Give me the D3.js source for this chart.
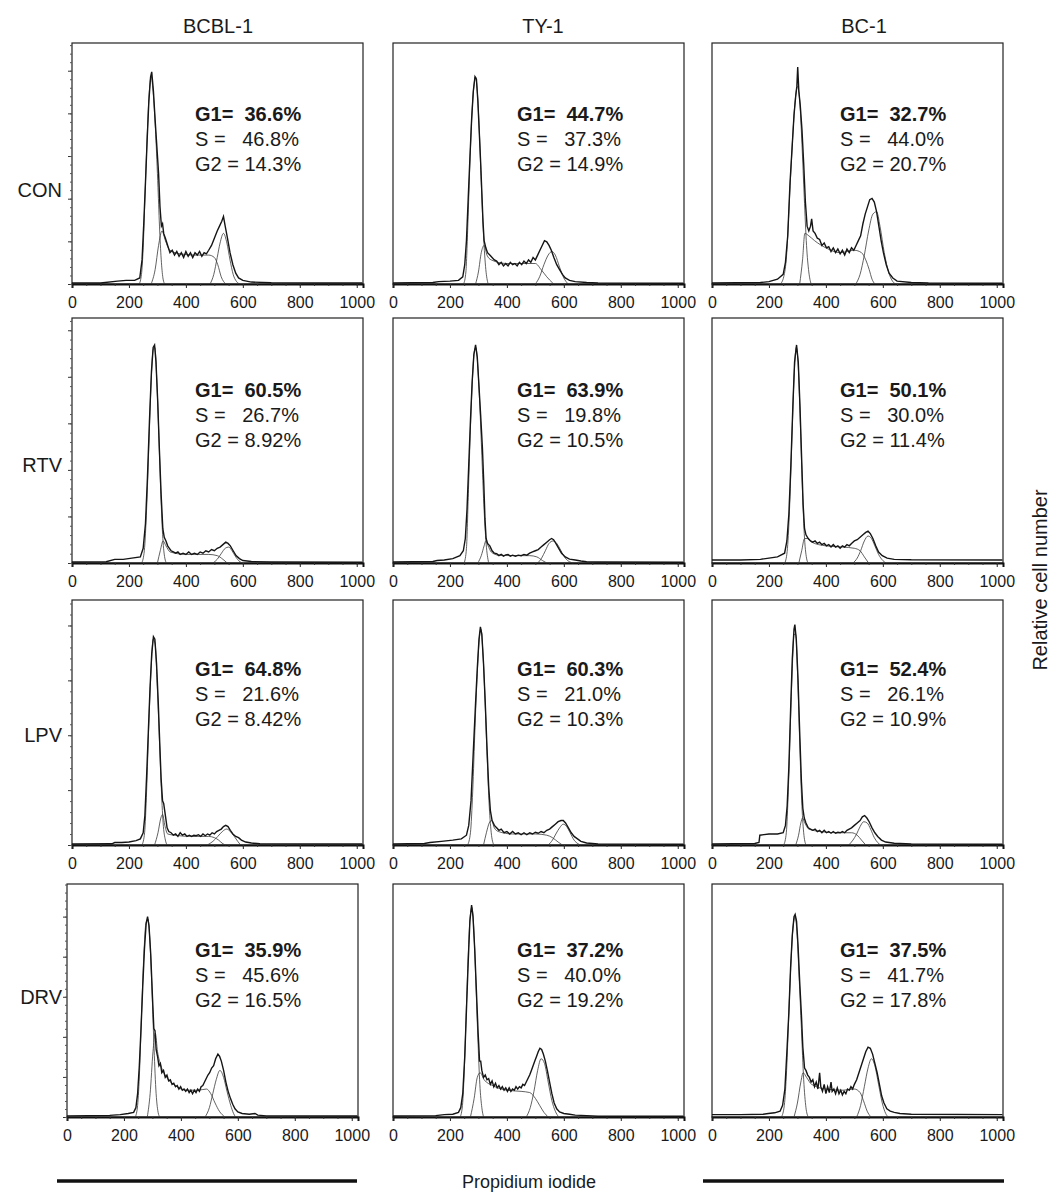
<!DOCTYPE html>
<html><head><meta charset="utf-8">
<script src="https://cdn.jsdelivr.net/npm/d3@7"></script>
<style>body{margin:0;background:#fff}svg{display:block}text{font-family:"Liberation Sans",Arial,sans-serif;fill:#1a1a1a}</style>
</head><body>
<svg id="c" width="1058" height="1194"></svg>
<script>
// ---------- labels ----------
const cellLines = ["BCBL-1", "TY-1", "BC-1"];
const treatments = ["CON", "RTV", "LPV", "DRV"];
const xTicks = [0, 200, 400, 600, 800, 1000];
// phase percentages per treatment row, per cell line column
const pctG1 = [["36.6","44.7","32.7"],["60.5","63.9","50.1"],["64.8","60.3","52.4"],["35.9","37.2","37.5"]];
const pctS  = [["46.8","37.3","44.0"],["26.7","19.8","30.0"],["21.6","21.0","26.1"],["45.6","40.0","41.7"]];
const pctG2 = [["14.3","14.9","20.7"],["8.92","10.5","11.4"],["8.42","10.3","10.9"],["16.5","19.2","17.8"]];
// y tick step (relative cell number units) for left column panels
const yTickStep = [17.7, 19.0, 22.4, 17.2];

// ---------- histograms: [channel, relative count (% of panel height)] ----------
const CON_BCBL_hist = [[0,0.4],[100,0.4],[160,1.2],[190,1.5],[220,1.5],[238,2.5],[246,10],[252,25],[258,42],[264,60],[270,76],[276,86],[280,88],[286,80],[292,68],[298,57],[304,46],[309,32],[314,24],[318,25],[322,21],[328,19],[336,16],[344,13],[352,14],[360,12],[368,13.5],[376,11.5],[384,13],[392,11],[400,13.5],[408,11.5],[416,13],[424,11],[432,13],[440,12],[448,13.5],[456,11.5],[464,13],[472,12.5],[480,14],[490,16],[500,19],[510,22],[518,24],[526,26],[532,28],[538,24],[546,19],[555,13],[565,8],[575,4.5],[585,2.5],[600,1.5],[630,0.8],[700,0.5],[850,0.4],[1020,0.4]];
const CON_BCBL_g1 = [[236,0],[244,4],[250,15],[256,35],[263,58],[270,77],[278,86],[286,78],[294,62],[302,40],[308,22],[314,9],[320,2],[326,0]];
const CON_BCBL_s = [[278,0],[292,6],[304,16],[316,22],[328,18],[344,14],[380,12.5],[430,12],[480,12],[500,11],[512,8],[524,3],[540,0]];
const CON_BCBL_g2 = [[485,0],[498,4],[510,11],[520,17],[532,21],[544,17],[555,10],[566,4],[578,1],[590,0]];

const CON_TY_hist = [[0,0.4],[140,0.6],[160,1],[200,1.2],[230,1.5],[245,3],[252,8],[258,18],[264,35],[270,52],[276,68],[282,80],[288,86],[293,85],[298,76],[303,63],[308,50],[312,38],[316,26],[320,18],[326,15],[332,13],[340,12],[348,11],[356,10],[364,9.5],[372,8],[380,9],[388,7.5],[396,8.5],[404,7.5],[412,9],[420,8],[428,8.5],[436,7.5],[444,9],[452,8],[460,9.5],[468,8.5],[476,10],[484,9],[492,11],[500,10],[508,12],[516,14],[524,16],[532,18],[540,17.5],[548,16],[556,14],[565,11],[575,8],[585,6],[595,4],[605,2.5],[620,1.5],[640,1],[680,0.6],[720,0.4],[1020,0.3]];
const CON_TY_g1 = [[248,0],[256,5],[263,25],[270,50],[277,70],[284,82],[290,86],[296,80],[303,64],[310,42],[318,20],[326,6],[334,0]];
const CON_TY_s = [[290,0],[300,5],[310,13],[320,16],[330,12],[345,10],[400,8.5],[460,8.5],[500,8.5],[520,6],[540,3],[560,0.5],[565,0]];
const CON_TY_g2 = [[500,0],[515,3],[530,8],[545,12],[558,13.5],[570,12],[585,7],[600,2.5],[615,0]];

const CON_BC_hist = [[0,0.4],[170,0.6],[200,1],[230,2],[250,4],[258,9],[266,20],[274,42],[282,58],[288,70],[294,78],[298,82],[301,90],[305,80],[310,74],[316,64],[322,50],[328,34],[334,24],[340,22],[346,24],[350,27],[355,22],[362,21],[370,19],[378,18.5],[386,16],[394,17],[402,15],[410,15.5],[418,13.5],[426,15],[434,13],[442,14.5],[450,12.5],[458,14],[466,12],[474,14.5],[482,13],[490,15],[498,14],[506,16],[514,18],[522,20],[530,25],[538,29],[546,32],[554,35],[562,35.5],[570,34],[578,30],[586,24],[594,18],[602,13],[612,8],[622,4.5],[635,2.5],[650,1.2],[700,0.6],[760,0.4],[1020,0.3]];
const CON_BC_g1 = [[240,0],[252,3],[262,12],[272,35],[282,58],[292,76],[300,82],[308,76],[316,58],[324,36],[332,16],[340,5],[348,0]];
const CON_BC_s = [[308,0],[318,10],[326,21],[340,20],[360,18],[400,15],[450,13],[500,14],[525,13],[540,10],[552,6],[562,2],[572,0]];
const CON_BC_g2 = [[505,0],[520,4],[535,12],[550,22],[565,29],[578,30],[590,24],[605,13],[620,5],[635,1],[645,0]];

const RTV_BCBL_hist = [[0,0.4],[120,0.5],[150,1.5],[180,1.5],[210,2],[240,2.5],[250,6],[258,16],[265,35],[272,58],[279,78],[285,88],[290,89],[295,82],[301,66],[307,46],[313,28],[319,14],[324,10.5],[330,9],[336,7],[342,6],[348,5],[356,4.5],[364,4],[372,4.5],[380,3.5],[390,4],[400,3.5],[410,4.5],[420,3.5],[430,4],[440,3.5],[450,4.5],[460,4],[470,5],[480,4.5],[490,5.5],[500,5],[510,6],[520,6.5],[530,7.5],[540,8.5],[548,8],[556,7],[566,5],[576,3],[588,1.8],[600,1],[630,0.6],[700,0.4],[1020,0.3]];
const RTV_BCBL_g1 = [[245,0],[254,5],[262,22],[270,48],[278,74],[285,87],[291,88],[298,74],[305,52],[312,28],[319,10],[326,2],[332,0]];
const RTV_BCBL_s = [[300,0],[310,5],[320,9],[330,7],[345,4.5],[400,3.5],[480,3.5],[510,3],[530,1.5],[545,0]];
const RTV_BCBL_g2 = [[495,0],[510,1.5],[525,4],[538,6],[550,6.5],[562,5],[575,2.5],[590,0.5],[600,0]];

const RTV_TY_hist = [[0,0.4],[140,0.6],[155,1],[180,1.2],[210,1.8],[235,3],[247,5],[254,10],[260,22],[266,40],[272,58],[278,74],[284,85],[290,89],[296,84],[302,72],[308,60],[314,47],[319,32],[323,18],[327,10],[332,8],[340,7],[348,5],[356,4],[364,3.8],[372,3],[380,3.5],[388,2.8],[396,3.3],[404,3.5],[412,2.8],[420,3.2],[430,2.8],[440,3.2],[450,3],[460,3.5],[470,3.2],[480,4],[490,4.5],[500,5],[510,5.5],[520,6.5],[530,7.5],[540,8.5],[550,9.5],[557,10],[564,9.5],[572,8],[582,6],[592,4],[605,2.5],[620,1.6],[640,1.2],[660,0.8],[680,0.5],[720,0.4],[1020,0.3]];
const RTV_TY_g1 = [[250,0],[258,6],[265,30],[272,55],[279,75],[285,86],[291,88],[298,80],[305,64],[312,44],[319,24],[327,8],[336,0]];
const RTV_TY_s = [[298,0],[310,3],[320,7],[326,9],[334,7],[345,4.5],[370,3.2],[420,3],[480,3],[505,2.5],[525,1],[540,0]];
const RTV_TY_g2 = [[508,0],[522,2],[535,5],[548,8],[562,9],[575,8],[590,5],[605,2],[620,0.5],[633,0]];

const RTV_BC_hist = [[0,1.2],[100,1.2],[170,1.5],[200,2],[230,2.5],[255,4],[263,9],[270,20],[277,40],[284,64],[290,82],[297,89],[303,82],[309,64],[315,42],[320,24],[325,14],[330,11.5],[338,10],[346,9],[354,8.5],[362,9],[370,8],[378,8.5],[386,7.5],[394,8],[402,7],[410,7.5],[418,6.5],[426,7.5],[434,6.5],[442,7],[450,6],[458,7],[466,6.5],[474,7.5],[482,7],[490,8],[500,9],[510,9.5],[520,10.5],[530,11.5],[540,12.5],[548,13],[556,12],[565,10],[575,7],[585,4.5],[598,3],[615,2],[640,1.5],[700,1.3],[1020,1.2]];
const RTV_BC_g1 = [[256,0],[265,6],[273,24],[281,52],[289,78],[296,88],[303,80],[310,58],[317,32],[324,12],[332,2],[338,0]];
const RTV_BC_s = [[305,0],[315,5],[325,10],[335,10],[350,8.5],[400,7],[460,6.5],[500,6],[520,5],[535,2.5],[550,0]];
const RTV_BC_g2 = [[495,0],[510,2],[522,5],[535,9],[548,11],[560,10],[572,7],[585,3.5],[600,1],[612,0]];

const LPV_BCBL_hist = [[0,0.4],[140,0.5],[150,1],[175,1],[200,1.2],[225,1.8],[240,2.5],[250,5],[256,12],[262,28],[268,46],[274,64],[280,78],[286,85],[291,84],[297,74],[303,58],[308,42],[313,27],[318,18],[322,17],[328,12],[334,7],[340,5.5],[348,5],[356,4],[364,4.5],[372,3.5],[380,5],[388,4],[396,4.5],[404,3.5],[412,4],[420,3.5],[428,4],[436,3.8],[444,4.2],[452,3.5],[460,4.5],[468,3.8],[476,4.5],[484,4],[492,5],[500,4.5],[508,5.5],[516,6],[524,6.5],[532,7.5],[540,8],[548,7.5],[556,6],[565,4.5],[575,3.5],[585,3],[595,2],[610,1.2],[630,0.8],[660,0.5],[1020,0.4]];
const LPV_BCBL_g1 = [[246,0],[255,5],[262,22],[270,50],[278,72],[285,84],[292,82],[299,66],[306,46],[313,25],[320,9],[328,2],[334,0]];
const LPV_BCBL_s = [[290,0],[302,5],[312,11],[318,12.5],[326,8],[336,4.5],[360,4],[420,3.5],[480,3.5],[500,3],[515,2],[530,0.5],[540,0]];
const LPV_BCBL_g2 = [[475,0],[495,1.5],[512,3.5],[528,5.5],[543,6.5],[556,5.5],[570,3.5],[582,1.5],[592,0]];

const LPV_TY_hist = [[0,0.4],[110,0.6],[130,1],[170,1.5],[210,2],[240,2.5],[258,4],[266,8],[274,18],[282,38],[290,58],[296,72],[302,84],[307,89],[312,86],[318,74],[324,58],[330,40],[336,24],[342,14],[348,10],[356,8],[364,7],[372,6],[380,6.5],[390,5],[400,5.5],[410,4.5],[420,5.5],[430,4.5],[440,5],[450,4.2],[460,5],[470,4.2],[480,5],[490,4.5],[500,5.2],[510,4.8],[520,5.5],[530,5],[540,6],[550,6.5],[560,7.5],[570,8.5],[580,9.5],[590,10],[598,10],[606,9],[616,7],[626,5],[636,3.5],[648,2.5],[660,1.5],[680,0.8],[720,0.4],[1020,0.3]];
const LPV_TY_g1 = [[262,0],[272,5],[280,22],[288,48],[296,70],[303,84],[309,88],[316,78],[323,60],[330,38],[337,18],[345,5],[354,0]];
const LPV_TY_s = [[318,0],[328,5],[338,9],[346,10],[356,7],[370,5.5],[420,4.5],[500,4.5],[540,4],[560,3],[580,1.2],[595,0]];
const LPV_TY_g2 = [[545,0],[560,2],[572,4.5],[585,7],[598,8.5],[610,7.5],[622,5],[636,2],[650,0.5],[660,0]];

const LPV_BC_hist = [[0,0.4],[150,0.6],[165,1],[168,4],[200,4.5],[230,4.5],[250,5],[258,8],[264,16],[270,32],[276,55],[282,76],[288,88],[291,90],[296,84],[302,68],[308,46],[314,26],[319,15],[324,11],[330,9],[338,7],[346,6.5],[354,6],[362,6.5],[370,5.5],[378,6],[386,5],[394,6],[402,5],[410,5.5],[418,4.8],[426,5.5],[434,4.8],[442,5.2],[450,5],[458,5.5],[466,5],[474,6],[482,6.5],[490,7],[500,8],[510,9],[520,10],[528,11.5],[536,12],[544,11],[552,9.5],[562,7],[572,5],[582,3.5],[595,2],[610,1.2],[640,0.7],[700,0.4],[1020,0.3]];
const LPV_BC_g1 = [[252,0],[261,5],[268,22],[275,48],[282,72],[288,86],[294,86],[301,68],[308,42],[315,18],[322,5],[330,0]];
const LPV_BC_s = [[294,0],[304,4],[312,9],[318,11],[326,9],[340,6.5],[380,5.5],[440,5],[490,5],[510,4],[525,2],[540,0]];
const LPV_BC_g2 = [[480,0],[495,2],[508,4.5],[520,7.5],[533,9.5],[545,9],[557,6.5],[570,3],[582,1],[592,0]];

const DRV_BCBL_hist = [[0,0.5],[150,0.7],[187,1],[215,1.5],[234,2],[242,4],[248,10],[254,22],[260,38],[266,56],[272,72],[278,83],[283,86],[288,82],[294,70],[300,52],[305,38],[309,37],[313,29],[318,26],[323,22],[328,23],[333,19],[339,20],[345,17],[351,18],[357,15.5],[363,16],[369,14],[375,14.5],[381,13],[387,13.5],[393,12],[399,13],[405,11.5],[411,12],[417,11],[423,12],[429,10.5],[435,11.5],[441,10],[447,11.5],[453,10.5],[459,12],[465,11],[471,13],[477,13.5],[483,15],[489,16.5],[495,18],[501,19],[508,21],[515,22],[522,25],[530,27],[536,26],[542,24],[550,20],[558,15],[566,11],[574,8],[582,5.5],[590,3.5],[600,2.2],[615,1.5],[640,1.2],[660,1.5],[670,0.8],[700,0.5],[1020,0.4]];
const DRV_BCBL_g1 = [[240,0],[248,5],[255,20],[262,45],[270,70],[277,83],[284,85],[291,76],[298,56],[305,32],[312,12],[320,2],[326,0]];
const DRV_BCBL_s = [[282,0],[292,10],[302,28],[310,36],[318,28],[330,22],[350,17],[380,13.5],[420,11.5],[460,11.5],[490,12],[505,10],[520,6],[535,2.5],[555,0]];
const DRV_BCBL_g2 = [[485,0],[500,4],[512,10],[524,16],[537,20],[550,17],[562,11],[575,5],[585,1.5],[592,0]];

const DRV_TY_hist = [[0,0.4],[150,0.6],[180,1],[210,1.2],[230,2],[238,4],[245,10],[252,26],[258,46],[264,66],[270,84],[276,91],[281,86],[287,72],[293,54],[299,36],[304,24],[308,24],[312,20],[318,17],[324,18],[330,16],[336,16.5],[342,14],[348,15.5],[354,13],[360,14.5],[366,12.5],[372,13.5],[378,12],[384,13],[390,11.5],[396,12.5],[402,11],[408,12.5],[414,11],[420,12],[426,11.5],[432,13],[438,12],[444,13],[450,12.5],[456,14],[462,13.5],[468,15],[474,16.5],[480,18],[486,20],[492,22],[498,24],[504,26],[510,28],[516,29.5],[522,29],[528,27],[535,24],[542,20],[550,15],[558,10],[566,6],[575,3.5],[585,2.2],[600,1.5],[620,1.2],[640,0.8],[680,0.6],[700,0.5],[720,0.3],[1020,0.3]];
const DRV_TY_g1 = [[236,0],[244,5],[251,22],[258,48],[265,72],[271,86],[277,90],[284,80],[291,58],[298,34],[305,14],[312,4],[318,0]];
const DRV_TY_s = [[272,0],[285,8],[296,17],[306,19],[320,16],[350,13.5],[400,11.5],[450,11],[480,10.5],[500,8],[515,5],[530,2],[545,0]];
const DRV_TY_g2 = [[468,0],[482,4],[495,11],[508,20],[520,25],[532,23],[545,15],[558,7],[570,2.5],[582,0]];

const DRV_BC_hist = [[0,1],[100,1],[180,1.2],[198,1.5],[220,1.8],[239,2.5],[248,5],[256,12],[263,28],[270,45],[276,64],[282,78],[288,86],[292,87],[297,84],[302,74],[308,58],[314,44],[319,30],[325,21],[330,20],[336,18],[342,17],[348,15],[354,16],[360,13],[366,15],[372,12],[378,19],[382,13],[388,11],[394,14],[400,10],[406,13],[412,10.5],[418,15],[422,11],[428,12],[434,10],[440,12.5],[446,10],[452,11.5],[458,9.5],[464,11],[470,10],[476,12],[482,11.5],[488,13],[494,12],[500,14],[508,16],[516,19],[524,22],[532,25],[540,28],[548,30],[556,29.5],[564,27],[572,23],[580,19],[588,14],[596,9],[604,6],[614,3.5],[626,2.5],[640,2],[660,1.5],[700,1.2],[1020,1]];
const DRV_BC_g1 = [[244,0],[254,5],[262,20],[270,45],[278,68],[285,82],[292,86],[299,78],[306,60],[314,38],[322,16],[330,4],[338,0]];
const DRV_BC_s = [[288,0],[300,6],[312,15],[320,19],[332,17],[350,14],[400,12],[460,11.5],[500,12],[520,10.5],[532,7],[545,2.5],[558,0]];
const DRV_BC_g2 = [[508,0],[522,5],[535,13],[548,21],[560,25],[572,22],[585,14],[598,6],[610,1.5],[619,0]];

const panelData = [
  [[CON_BCBL_hist,CON_BCBL_g1,CON_BCBL_s,CON_BCBL_g2],[CON_TY_hist,CON_TY_g1,CON_TY_s,CON_TY_g2],[CON_BC_hist,CON_BC_g1,CON_BC_s,CON_BC_g2]],
  [[RTV_BCBL_hist,RTV_BCBL_g1,RTV_BCBL_s,RTV_BCBL_g2],[RTV_TY_hist,RTV_TY_g1,RTV_TY_s,RTV_TY_g2],[RTV_BC_hist,RTV_BC_g1,RTV_BC_s,RTV_BC_g2]],
  [[LPV_BCBL_hist,LPV_BCBL_g1,LPV_BCBL_s,LPV_BCBL_g2],[LPV_TY_hist,LPV_TY_g1,LPV_TY_s,LPV_TY_g2],[LPV_BC_hist,LPV_BC_g1,LPV_BC_s,LPV_BC_g2]],
  [[DRV_BCBL_hist,DRV_BCBL_g1,DRV_BCBL_s,DRV_BCBL_g2],[DRV_TY_hist,DRV_TY_g1,DRV_TY_s,DRV_TY_g2],[DRV_BC_hist,DRV_BC_g1,DRV_BC_s,DRV_BC_g2]]
];

// ---------- layout ----------
const svg = d3.select("#c");
const colLeft = [72, 393, 712];
const plotW = 291;
const rowTop = [43, 318, 600, 884];
const rowBot = [284, 563, 845, 1117];
const titleX = [218, 543, 864];
const rowLabelY = [197, 472, 742, 1004];
const textX = [195, 517, 840];
const textY = [121, 397, 676, 957];
const FONT = '"Liberation Sans", Arial, sans-serif';

cellLines.forEach((c, i) => {
  svg.append("text").attr("x", titleX[i]).attr("y", 33).attr("text-anchor", "middle")
    .style("font-size", "20px").text(c);
});

treatments.forEach((t, r) => {
  svg.append("text").attr("x", 62).attr("y", rowLabelY[r]).attr("text-anchor", "end")
    .style("font-size", "20px").text(t);
  for (let c = 0; c < 3; c++) {
    const left = colLeft[c] - (r === 3 && c === 0 ? 5 : 0);
    const x = d3.scaleLinear().domain([0, 1022]).range([left, left + plotW]);
    const y = d3.scaleLinear().domain([0, 100]).range([rowBot[r], rowTop[r]]);
    const g = svg.append("g");
    g.append("rect").attr("x", left).attr("y", rowTop[r]).attr("width", plotW)
      .attr("height", rowBot[r] - rowTop[r]).attr("fill", "none").attr("stroke", "#222").attr("stroke-width", 1.2);
    const ax = g.append("g").attr("transform", `translate(0,${rowBot[r]})`)
      .call(d3.axisBottom(x).tickValues(xTicks).tickSize(4).tickFormat(d3.format("d")));
    ax.select(".domain").attr("stroke", "#111").attr("stroke-width", 2);
    ax.selectAll(".tick line").attr("stroke", "#222");
    ax.selectAll(".tick text").attr("dy", 0).attr("y", 24).style("font-size", "16px").style("font-family", FONT).attr("fill", "#1a1a1a");
    g.append("g").attr("transform", `translate(0,${rowBot[r]})`)
      .call(d3.axisBottom(x).tickValues(d3.range(50, 1001, 50)).tickSize(2).tickFormat(""))
      .call(s => s.select(".domain").remove()).selectAll("line").attr("stroke", "#333");
    if (c === 0) {
      const step = yTickStep[r];
      g.append("g").attr("transform", `translate(${left},0)`)
        .call(d3.axisLeft(y).tickValues(d3.range(0, 100, step)).tickSize(4).tickFormat(""))
        .call(s => s.select(".domain").remove()).selectAll("line").attr("stroke", "#333");
      g.append("g").attr("transform", `translate(${left},0)`)
        .call(d3.axisLeft(y).tickValues(d3.range(0, 100, step / 5)).tickSize(2).tickFormat(""))
        .call(s => s.select(".domain").remove()).selectAll("line").attr("stroke", "#555");
    }
    const [hist, g1, sp, g2] = panelData[r][c];
    const comp = d3.line().x(d => x(d[0])).y(d => y(d[1])).curve(d3.curveMonotoneX);
    [g1, sp, g2].forEach(arr => {
      g.append("path").attr("d", comp(arr)).attr("fill", "none").attr("stroke", "#3a3a3a").attr("stroke-width", 0.8);
    });
    const hl = d3.line().x(d => x(d[0])).y(d => y(d[1])).curve(d3.curveLinear);
    g.append("path").attr("d", hl(hist)).attr("fill", "none").attr("stroke", "#151515").attr("stroke-width", 1.4);
    const tx = textX[c], ty = textY[r];
    g.append("text").attr("x", tx).attr("y", ty).style("font-size", "20px").style("font-weight", "bold")
      .style("white-space", "pre").text(`G1=  ${pctG1[r][c]}%`);
    g.append("text").attr("x", tx).attr("y", ty + 25).style("font-size", "20px")
      .style("white-space", "pre").text(`S =   ${pctS[r][c]}%`);
    g.append("text").attr("x", tx).attr("y", ty + 50).style("font-size", "20px")
      .style("white-space", "pre").text(`G2 = ${pctG2[r][c]}%`);
  }
});

svg.append("text").attr("transform", "translate(1047,580) rotate(-90)").attr("text-anchor", "middle")
  .style("font-size", "20px").text("Relative cell number");
svg.append("text").attr("x", 529).attr("y", 1188).attr("text-anchor", "middle")
  .style("font-size", "18px").text("Propidium iodide");
svg.append("line").attr("x1", 57).attr("x2", 357).attr("y1", 1181).attr("y2", 1181).attr("stroke", "#111").attr("stroke-width", 3.5);
svg.append("line").attr("x1", 703).attr("x2", 1004).attr("y1", 1181).attr("y2", 1181).attr("stroke", "#111").attr("stroke-width", 3.5);
</script>
</body></html>
